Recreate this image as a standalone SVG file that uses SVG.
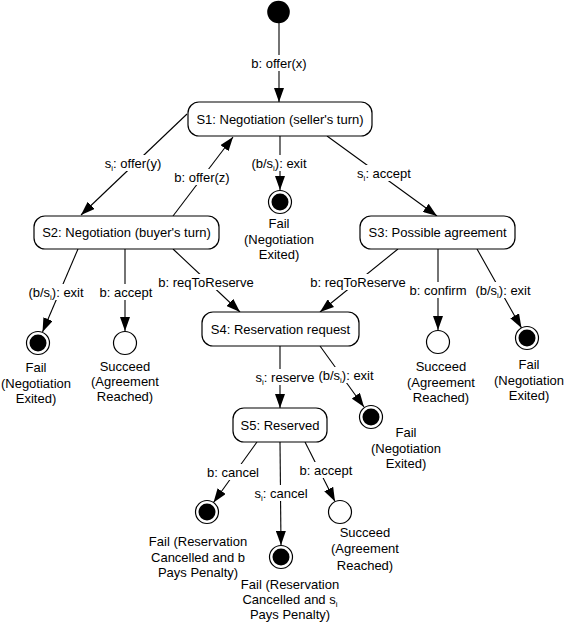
<svg xmlns="http://www.w3.org/2000/svg" width="566" height="623" viewBox="0 0 566 623">
<defs>
<marker id="arr" markerUnits="userSpaceOnUse" markerWidth="15" markerHeight="10" refX="14" refY="5" orient="auto">
<path d="M0,0 L14,5 L0,10 z" fill="#000"/>
</marker>
<style>
text{font-family:"Liberation Sans",Arial,sans-serif;font-size:13px;fill:#000;text-anchor:middle}
.st{fill:#fff;stroke:#000;stroke-width:1.2}
.ln{fill:none;stroke:#000;stroke-width:1.1;marker-end:url(#arr)}
.bg{fill:#fff}
.sub{font-size:8px}
</style>
</defs>
<rect width="566" height="623" fill="#fff"/>

<g id="connectors">
<path class="ln" d="M279,23 L279,102"/>
<path class="ln" d="M187,114 L81,215"/>
<path class="ln" d="M173,216 L233,137"/>
<path class="ln" d="M280,136 L280,190"/>
<path class="ln" d="M327,136 L437,216"/>
<path class="ln" d="M78,249 L42.5,332"/>
<path class="ln" d="M125,249 L125,331"/>
<path class="ln" d="M173,249 L240,312"/>
<path class="ln" d="M398,249 L320,312"/>
<path class="ln" d="M438,249 L438,330"/>
<path class="ln" d="M477,249 L521.5,328"/>
<path class="ln" d="M280,346 L280,408"/>
<path class="ln" d="M320,346 L364,407"/>
<path class="ln" d="M257,442 L213.5,502.5"/>
<path class="ln" d="M280,442 L281,545"/>
<path class="ln" d="M305,442 L335,501.5"/>

<rect class="bg" x="246" y="55" width="66" height="16"/>
<text x="279" y="67.5">b: offer(x)</text>
<rect class="bg" x="102" y="155" width="62" height="16"/>
<text x="133" y="167.5">s<tspan class="sub" dy="3">i</tspan><tspan dy="-3">: offer(y)</tspan></text>
<rect class="bg" x="174" y="169" width="57" height="16"/>
<text x="202" y="181.5">b: offer(z)</text>
<rect class="bg" x="249" y="155" width="60" height="16"/>
<text x="279" y="167.5">(b/s<tspan class="sub" dy="3">i</tspan><tspan dy="-3">): exit</tspan></text>
<rect class="bg" x="356" y="165" width="56" height="16"/>
<text x="384" y="177.5">s<tspan class="sub" dy="3">i</tspan><tspan dy="-3">: accept</tspan></text>
<rect class="bg" x="27" y="284" width="58" height="16"/>
<text x="56" y="296.5">(b/s<tspan class="sub" dy="3">i</tspan><tspan dy="-3">): exit</tspan></text>
<rect class="bg" x="99" y="284" width="54" height="16"/>
<text x="126" y="296.5">b: accept</text>
<rect class="bg" x="157" y="274" width="99" height="16"/>
<text x="206" y="286.5">b: reqToReserve</text>
<rect class="bg" x="309" y="274" width="99" height="16"/>
<text x="358" y="286.5">b: reqToReserve</text>
<rect class="bg" x="408" y="282" width="60" height="16"/>
<text x="438" y="294.5">b: confirm</text>
<rect class="bg" x="475" y="282" width="57" height="16"/>
<text x="503" y="294.5">(b/s<tspan class="sub" dy="3">i</tspan><tspan dy="-3">): exit</tspan></text>
<rect class="bg" x="258" y="369" width="54" height="16"/>
<text x="285" y="381.5">s<tspan class="sub" dy="3">i</tspan><tspan dy="-3">: reserve</tspan></text>
<rect class="bg" x="317" y="367" width="58" height="16"/>
<text x="346" y="379.5">(b/s<tspan class="sub" dy="3">i</tspan><tspan dy="-3">): exit</tspan></text>
<rect class="bg" x="206" y="464" width="55" height="16"/>
<text x="233" y="476.5">b: cancel</text>
<rect class="bg" x="298" y="462" width="56" height="16"/>
<text x="326" y="474.5">b: accept</text>
<rect class="bg" x="254" y="485" width="55" height="16"/>
<text x="281" y="497.5">s<tspan class="sub" dy="3">i</tspan><tspan dy="-3">: cancel</tspan></text>
</g>

<g id="init"><circle cx="278.5" cy="12" r="11.3" fill="#000"/></g>

<g id="S1"><rect class="st" x="188" y="102" width="184" height="34" rx="11"/><text x="280" y="123.5">S1: Negotiation (seller's turn)</text></g>
<g id="S2"><rect class="st" x="34" y="216" width="185" height="33" rx="11"/><text x="126.5" y="237">S2: Negotiation (buyer's turn)</text></g>
<g id="S3"><rect class="st" x="360" y="216" width="155" height="33" rx="11"/><text x="437.5" y="237">S3: Possible agreement</text></g>
<g id="S4"><rect class="st" x="202" y="312" width="157" height="34" rx="11"/><text x="280.5" y="333.5">S4: Reservation request</text></g>
<g id="S5"><rect class="st" x="233" y="408" width="94" height="34" rx="11"/><text x="280" y="429.5">S5: Reserved</text></g>

<g id="fail1"><circle cx="280" cy="202" r="11.5" fill="#fff" stroke="#000" stroke-width="1.2"/><circle cx="280" cy="202" r="8.5" fill="#000"/>
<text x="279" y="228">Fail</text><text x="279" y="244">(Negotiation</text><text x="279" y="259">Exited)</text></g>

<g id="fail2"><circle cx="38" cy="343" r="11.5" fill="#fff" stroke="#000" stroke-width="1.2"/><circle cx="38" cy="343" r="8.5" fill="#000"/>
<text x="36" y="372">Fail</text><text x="36" y="388">(Negotiation</text><text x="36" y="403">Exited)</text></g>

<g id="succeed2"><circle cx="125" cy="343" r="11.5" fill="#fff" stroke="#000" stroke-width="1.2"/>
<text x="125" y="371">Succeed</text><text x="125" y="386">(Agreement</text><text x="125" y="401">Reached)</text></g>

<g id="succeed3"><circle cx="438" cy="342" r="11.5" fill="#fff" stroke="#000" stroke-width="1.2"/>
<text x="441" y="371">Succeed</text><text x="441" y="387">(Agreement</text><text x="441" y="402">Reached)</text></g>

<g id="fail3"><circle cx="527" cy="338" r="11.5" fill="#fff" stroke="#000" stroke-width="1.2"/><circle cx="527" cy="338" r="8.5" fill="#000"/>
<text x="529" y="369">Fail</text><text x="529" y="385">(Negotiation</text><text x="529" y="400">Exited)</text></g>

<g id="fail4"><circle cx="371" cy="417" r="11.5" fill="#fff" stroke="#000" stroke-width="1.2"/><circle cx="371" cy="417" r="8.5" fill="#000"/>
<text x="406" y="437">Fail</text><text x="406" y="453">(Negotiation</text><text x="406" y="468">Exited)</text></g>

<g id="fail5"><circle cx="207" cy="512" r="11.5" fill="#fff" stroke="#000" stroke-width="1.2"/><circle cx="207" cy="512" r="8.5" fill="#000"/>
<text x="198" y="546">Fail (Reservation</text><text x="198" y="562">Cancelled and b</text><text x="198" y="577">Pays Penalty)</text></g>

<g id="fail6"><circle cx="281" cy="557" r="11.5" fill="#fff" stroke="#000" stroke-width="1.2"/><circle cx="281" cy="557" r="8.5" fill="#000"/>
<text x="290" y="589">Fail (Reservation</text><text x="290" y="604">Cancelled and s<tspan class="sub" dy="3">i</tspan></text><text x="290" y="619">Pays Penalty)</text></g>

<g id="succeed5"><circle cx="340" cy="512" r="11.5" fill="#fff" stroke="#000" stroke-width="1.2"/>
<text x="365" y="537">Succeed</text><text x="365" y="553">(Agreement</text><text x="365" y="570">Reached)</text></g>
</svg>
